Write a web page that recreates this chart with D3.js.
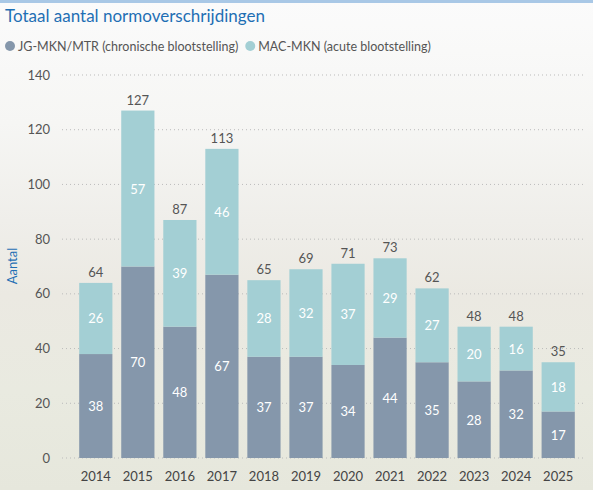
<!DOCTYPE html><html><head><meta charset="utf-8"><script src="https://cdn.jsdelivr.net/npm/d3@7"></script>
<style>body{margin:0}svg{display:block}</style></head><body><svg id="c" width="593" height="490"></svg>
<script>
const years=["2014","2015","2016","2017","2018","2019","2020","2021","2022","2023","2024","2025"];
const chronisch=[38,70,48,67,37,37,34,44,35,28,32,17];
const acuut=[26,57,39,46,28,32,37,29,27,20,16,18];
const totals=[64,127,87,113,65,69,71,73,62,48,48,35];
const yTicks=[0,20,40,60,80,100,120,140];
const F="Lato, 'Open Sans', sans-serif";
const svg=d3.select("#c");
const defs=svg.append("defs");
const g=defs.append("linearGradient").attr("id","bg").attr("x1",0).attr("y1",0).attr("x2",0).attr("y2",1);
[[0,"#fbfbfb"],[0.25,"#f6f6f4"],[0.45,"#efeeea"],[0.6,"#ebe9e2"],[0.8,"#e9eae0"],[1,"#e6e7dc"]].forEach(s=>g.append("stop").attr("offset",s[0]).attr("stop-color",s[1]));
svg.append("rect").attr("width",593).attr("height",490).attr("fill","url(#bg)");
svg.append("rect").attr("width",593).attr("height",3).attr("fill","#a9c8e6");
svg.append("text").attr("x",5).attr("y",22).attr("font-family",F).attr("font-size",17).attr("fill","#1f6fb4").text("Totaal aantal normoverschrijdingen");
const leg=[["JG-MKN/MTR (chronische blootstelling)","#8597ab"],["MAC-MKN (acute blootstelling)","#a3cfd4"]];
let lx=10;
leg.forEach(([t,c])=>{svg.append("circle").attr("cx",lx).attr("cy",46).attr("r",5).attr("fill",c);
 const tx=svg.append("text").attr("x",lx+8).attr("y",50.5).attr("font-family",F).attr("font-size",12.5).attr("fill","#555").text(t);
 lx+=tx.node().getComputedTextLength()+20;});
const x=d3.scaleBand().domain(years).range([75,579]).paddingInner(0.21).paddingOuter(0.1);
const y=d3.scaleLinear().domain([0,140]).range([458,75]);
yTicks.forEach(v=>{svg.append("line").attr("x1",62).attr("x2",585).attr("y1",y(v)).attr("y2",y(v)).attr("stroke","#bbb").attr("stroke-dasharray","1,3");
 svg.append("text").attr("x",50).attr("y",y(v)+4.5).attr("text-anchor","end").attr("font-family",F).attr("font-size",13).attr("fill","#555").text(v);});
svg.append("text").attr("transform","translate(17,266) rotate(-90)").attr("text-anchor","middle").attr("font-family",F).attr("font-size",13).attr("fill","#1f6fb4").text("Aantal");
years.forEach((yr,i)=>{
 const bx=x(yr),w=x.bandwidth(),cx=bx+w/2;
 svg.append("rect").attr("x",bx).attr("width",w).attr("y",y(chronisch[i])).attr("height",y(0)-y(chronisch[i])).attr("fill","#8597ab");
 svg.append("rect").attr("x",bx).attr("width",w).attr("y",y(totals[i])).attr("height",y(chronisch[i])-y(totals[i])).attr("fill","#a3cfd4");
 svg.append("text").attr("x",cx).attr("y",(y(0)+y(chronisch[i]))/2+5).attr("text-anchor","middle").attr("font-family",F).attr("font-size",13).attr("fill","#fff").text(chronisch[i]);
 svg.append("text").attr("x",cx).attr("y",(y(chronisch[i])+y(totals[i]))/2+5).attr("text-anchor","middle").attr("font-family",F).attr("font-size",13).attr("fill","#fff").text(acuut[i]);
 svg.append("text").attr("x",cx).attr("y",y(totals[i])-6).attr("text-anchor","middle").attr("font-family",F).attr("font-size",13).attr("fill","#555").text(totals[i]);
 svg.append("text").attr("x",cx).attr("y",481).attr("text-anchor","middle").attr("font-family",F).attr("font-size",13).attr("fill","#444").text(yr);
});
</script></body></html>
